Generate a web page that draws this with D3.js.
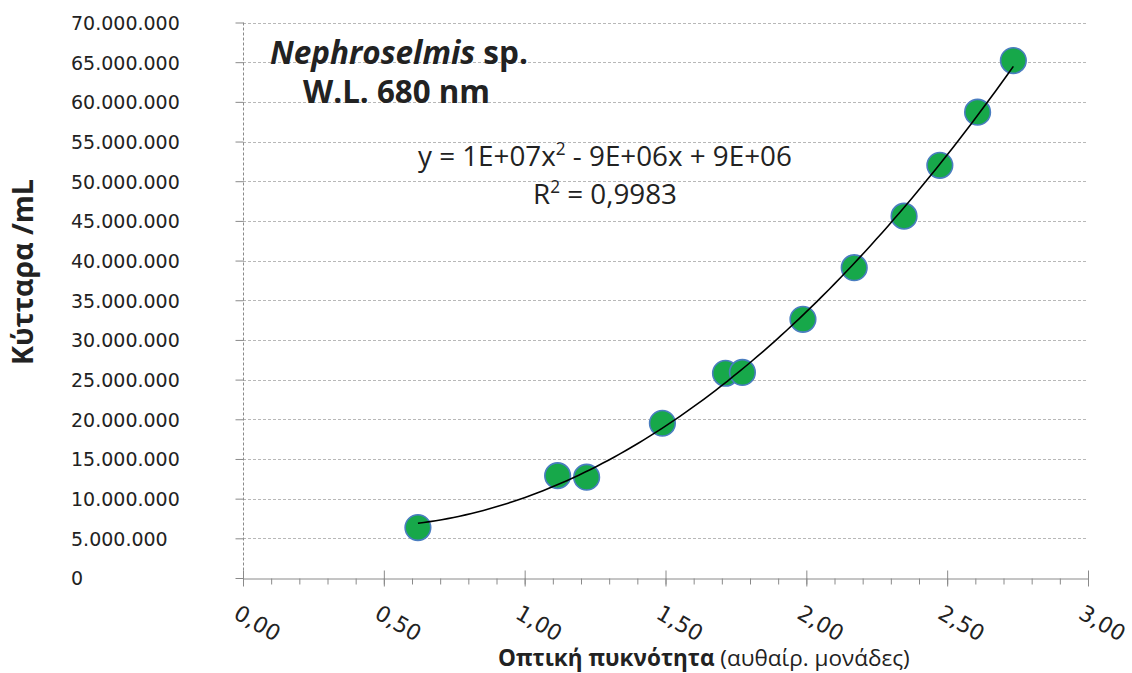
<!DOCTYPE html>
<html>
<head>
<meta charset="utf-8">
<script src="https://cdn.jsdelivr.net/npm/d3@7"></script>
<style>
  body { margin: 0; background: #fff; }
  svg { display: block; }
</style>
</head>
<body>
<svg id="chart" width="1132" height="673"></svg>
<script>
// Optical density readings (arbitrary units) and the matching cell counts per mL
const opticalDensity = [0.621, 1.117, 1.220, 1.489, 1.713, 1.773, 1.988, 2.170, 2.347, 2.474, 2.608, 2.735];
const cellsPerMl = [6350000, 12900000, 12700000, 19500000, 25800000, 25900000, 32600000, 39100000, 45600000, 52000000, 58700000, 65200000];

// Axis ticks
const yTickValues = [0, 5e6, 10e6, 15e6, 20e6, 25e6, 30e6, 35e6, 40e6, 45e6, 50e6, 55e6, 60e6, 65e6, 70e6];
const xTickValues = [0, 0.5, 1, 1.5, 2, 2.5, 3];
const xMinorTickValues = [0, 0.1, 0.2, 0.3, 0.4, 0.5, 0.6, 0.7, 0.8, 0.9, 1, 1.1, 1.2, 1.3, 1.4, 1.5,
  1.6, 1.7, 1.8, 1.9, 2, 2.1, 2.2, 2.3, 2.4, 2.5, 2.6, 2.7, 2.8, 2.9, 3];

// Texts
const speciesName = "Nephroselmis";
const speciesSuffix = " sp.";
const wavelengthLabel = "W.L. 680 nm";
const equationParts = ["y = 1E+07x", "2", " - 9E+06x + 9E+06"];
const rSquaredParts = ["R", "2", " = 0,9983"];
const xTitleBold = "Οπτική πυκνότητα";
const xTitleRest = " (αυθαίρ. μονάδες)";
const yTitle = "Κύτταρα /mL";

const sans = "'Open Sans', 'Noto Sans', sans-serif";
const tickFont = "'DejaVu Sans', Verdana, sans-serif";
const ink = "#222";

const svg = d3.select("#chart");

const x = d3.scaleLinear().domain([0, 3]).range([243, 1088]);
const y = d3.scaleLinear().domain([0, 70e6]).range([578, 22.5]);

const locale = d3.formatLocale({ decimal: ",", thousands: ".", grouping: [3], currency: ["", ""] });
const fmtY = locale.format(",");
const fmtX = locale.format(".2f");
const crisp = v => Math.round(v) + 0.5;

// Horizontal gridlines
svg.append("g")
  .selectAll("line")
  .data(yTickValues.filter(v => v > 0))
  .join("line")
  .attr("x1", x(0)).attr("x2", x(3))
  .attr("y1", d => crisp(y(d))).attr("y2", d => crisp(y(d)))
  .attr("stroke", "#b8b8b8")
  .attr("stroke-width", 1)
  .attr("stroke-dasharray", "3,2");

// Vertical axis line (dashed) with ticks and labels
svg.append("line")
  .attr("x1", crisp(x(0))).attr("x2", crisp(x(0)))
  .attr("y1", y(70e6)).attr("y2", y(0))
  .attr("stroke", "#8a8a8a")
  .attr("stroke-dasharray", "3,2");

const yAxis = svg.append("g")
  .attr("transform", `translate(${crisp(x(0))},0)`)
  .call(d3.axisLeft(y).tickValues(yTickValues).tickFormat(fmtY).tickSize(8).tickPadding(0));
yAxis.select(".domain").remove();
yAxis.selectAll(".tick line").attr("stroke", "#8a8a8a");
yAxis.selectAll(".tick text")
  .attr("x", 71 - crisp(x(0)))
  .attr("dy", "0.36em")
  .attr("text-anchor", "start")
  .attr("font-family", tickFont)
  .attr("font-size", 19)
  .attr("fill", ink);

// Horizontal axis: minor ticks every 0.1, major ticks crossing the axis every 0.5
const xAxisY = crisp(y(0));
const xMinor = svg.append("g")
  .attr("transform", `translate(0,${xAxisY})`)
  .call(d3.axisBottom(x).tickValues(xMinorTickValues).tickFormat("").tickSize(6).tickSizeOuter(0));
xMinor.select(".domain").attr("stroke", "#8a8a8a");
xMinor.selectAll(".tick line").attr("stroke", "#8a8a8a");

const xMajor = svg.append("g")
  .attr("transform", `translate(0,${xAxisY})`)
  .call(d3.axisBottom(x).tickValues(xTickValues).tickFormat(fmtX).tickSize(8).tickSizeOuter(0));
xMajor.select(".domain").remove();
xMajor.selectAll(".tick line").attr("y1", -8).attr("stroke", "#8a8a8a");
xMajor.selectAll(".tick text")
  .attr("x", 0).attr("y", 0)
  .attr("text-anchor", "start")
  .attr("transform", "translate(-3,25) rotate(30)")
  .attr("dy", "0.74em")
  .attr("font-family", tickFont)
  .attr("font-size", 22)
  .attr("fill", ink);

// Quadratic least-squares trendline through the measurements
function quadraticFit(xs, ys) {
  const n = xs.length;
  let s1 = 0, s2 = 0, s3 = 0, s4 = 0, t0 = 0, t1 = 0, t2 = 0;
  for (let i = 0; i < n; i++) {
    const a = xs[i], b = ys[i], a2 = a * a;
    s1 += a; s2 += a2; s3 += a2 * a; s4 += a2 * a2;
    t0 += b; t1 += a * b; t2 += a2 * b;
  }
  // Normal equations solved with Cramer's rule
  const M = [[s4, s3, s2], [s3, s2, s1], [s2, s1, n]];
  const v = [t2, t1, t0];
  const det3 = m => m[0][0] * (m[1][1] * m[2][2] - m[1][2] * m[2][1])
    - m[0][1] * (m[1][0] * m[2][2] - m[1][2] * m[2][0])
    + m[0][2] * (m[1][0] * m[2][1] - m[1][1] * m[2][0]);
  const D = det3(M);
  const col = k => M.map((row, r) => row.map((val, c) => (c === k ? v[r] : val)));
  return [det3(col(0)) / D, det3(col(1)) / D, det3(col(2)) / D];
}
const [qa, qb, qc] = quadraticFit(opticalDensity, cellsPerMl);
const xMin = d3.min(opticalDensity), xMax = d3.max(opticalDensity);
const curveX = d3.range(0, 101).map(i => xMin + (xMax - xMin) * i / 100);

// Data points
svg.append("g")
  .selectAll("circle")
  .data(opticalDensity.map((od, i) => [od, cellsPerMl[i]]))
  .join("circle")
  .attr("cx", d => x(d[0]))
  .attr("cy", d => y(d[1]))
  .attr("r", 12.8)
  .attr("fill", "#17a84a")
  .attr("stroke", "#4a7dc0")
  .attr("stroke-width", 1.6);

svg.append("path")
  .datum(curveX)
  .attr("fill", "none")
  .attr("stroke", "#000")
  .attr("stroke-width", 1.6)
  .attr("d", d3.line().x(d => x(d)).y(d => y(qa * d * d + qb * d + qc)));

// Scale a text element's font size so it spans the given width
function fitWidth(sel, width) {
  const fs = parseFloat(sel.attr("font-size"));
  const w = sel.node().getComputedTextLength();
  sel.attr("font-size", (fs * width / w).toFixed(2));
  return sel;
}

// Species / wavelength heading
const t1 = svg.append("text")
  .attr("x", 270).attr("y", 63.5)
  .attr("font-family", sans).attr("font-size", 28).attr("font-weight", 700).attr("fill", ink);
t1.append("tspan").attr("font-style", "italic").text(speciesName);
t1.append("tspan").text(speciesSuffix);
fitWidth(t1, 258);

const t2 = svg.append("text")
  .attr("x", 303).attr("y", 102.5)
  .attr("font-family", sans).attr("font-size", 28).attr("font-weight", 700).attr("fill", ink)
  .text(wavelengthLabel);
fitWidth(t2, 187);

// Trendline equation and coefficient of determination
function withSuperscript(parts, px, py, width) {
  const t = svg.append("text")
    .attr("x", px).attr("y", py)
    .attr("font-family", sans).attr("font-size", 24).attr("fill", ink);
  t.append("tspan").text(parts[0]);
  t.append("tspan").attr("font-size", "0.62em").attr("baseline-shift", "super").text(parts[1]);
  t.append("tspan").text(parts[2]);
  return fitWidth(t, width);
}
withSuperscript(equationParts, 418, 166, 374);
withSuperscript(rSquaredParts, 533, 203.5, 144);

// Axis titles
const xt = svg.append("text")
  .attr("x", 498).attr("y", 666)
  .attr("font-family", sans).attr("font-size", 20).attr("fill", ink);
xt.append("tspan").attr("font-weight", 700).text(xTitleBold);
xt.append("tspan").text(xTitleRest);
fitWidth(xt, 412);

const yt = svg.append("text")
  .attr("transform", "translate(32.5,272) rotate(-90)")
  .attr("text-anchor", "middle")
  .attr("font-family", sans).attr("font-size", 24).attr("font-weight", 700).attr("fill", ink)
  .text(yTitle);
fitWidth(yt, 186);
</script>
</body>
</html>
